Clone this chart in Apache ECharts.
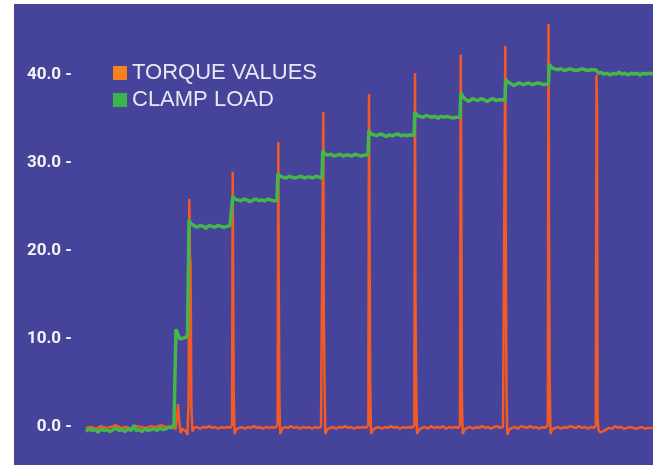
<!DOCTYPE html>
<html>
<head>
<meta charset="utf-8">
<script src="https://cdn.jsdelivr.net/npm/echarts@6/dist/echarts.min.js"></script>
<style>
html,body{margin:0;padding:0;background:#ffffff;}
#chart{position:absolute;left:14px;top:4px;width:639px;height:461px;}
</style>
</head>
<body>
<div id="chart"></div>
<script>
// Time in samples, values in load units
const seriesNames = ['TORQUE VALUES', 'CLAMP LOAD'];
const yTicks = [0, 10, 20, 30, 40];

const torqueTime = [0,5,10,15,20,25,30,35,40,45,50,55,60,65,70,75,80,85,88,89.5,91,92,93,94.5,96,98,100,101.5,102.6,103.3,103.8,104.6,105.4,106.5,108,111,114,117,120,123,126,129,132,135,138,141,144,146,
146.7,147.2,147.8,148.6,150,153,156,159,162,165,168,171,174,177,180,183,186,189,191.6,
192.3,192.8,193.4,194.2,196,199,202,205,208,211,214,217,220,223,226,229,232,235,236.6,
237.3,237.8,238.5,239.3,241,244,247,250,253,256,259,262,265,268,271,274,277,280,282.3,
283,283.5,284.2,285,287,290,293,296,299,302,305,308,311,314,317,320,323,326,328.3,
329,329.5,330.2,331,333,336,339,342,345,348,351,354,357,360,363,366,369,372,374,
374.7,375.2,375.9,376.7,378.5,381,384,387,390,393,396,399,402,405,408,411,414,417,418.6,
419.3,419.8,420.5,421.3,423,426,429,432,435,438,441,444,447,450,453,456,459,461.8,
462.5,463,463.7,464.5,466,469,472,475,478,481,484,487,490,493,496,499,502,505,508,509.8,
510.5,511,511.6,512.5,514,517,520,523,526,529,532,535,538,541,544,547,550,553,556,559,562,565,567];
const torqueValue = [-0.1,0.0,-0.2,0.1,-0.1,0.0,0.2,-0.1,0.0,-0.2,0.1,0.0,-0.1,0.1,0.0,0.2,0.0,0.1,0.2,-0.3,1.0,2.6,1.0,-0.7,-0.2,-0.4,-0.5,-0.9,3.0,25.9,20.0,18.4,2.0,-0.5,-0.1,0.0,-0.2,0.0,-0.1,0.1,-0.1,0.0,-0.2,0.0,-0.1,0.0,-0.1,0.2,
29.0,15.0,3.0,-0.8,-0.3,-0.1,0.0,-0.2,0.0,-0.1,0.1,-0.1,0.0,-0.2,0.0,-0.1,0.0,-0.1,0.2,
32.4,15.3,3.0,-0.8,-0.2,0.0,-0.1,0.1,-0.1,0.0,-0.2,0.0,-0.1,0.0,-0.2,0.0,-0.1,0.0,0.2,
35.8,13.4,5.5,-0.8,-0.3,-0.1,0.0,-0.2,0.0,-0.1,0.1,-0.1,0.0,-0.2,0.0,-0.1,0.0,-0.1,0.2,
37.8,23.3,5.0,-0.8,-0.3,-0.1,0.0,-0.2,0.0,-0.1,0.1,-0.1,0.0,-0.2,0.0,-0.1,0.0,-0.1,0.2,
40.2,14.0,4.0,-0.8,-0.3,-0.1,0.0,-0.2,0.1,-0.1,0.0,-0.1,0.1,-0.2,0.0,-0.1,0.0,-0.1,0.2,
42.3,29.0,3.2,-0.8,-0.3,-0.1,0.0,-0.2,0.0,-0.1,0.1,-0.1,0.0,-0.2,0.0,0.1,-0.1,0.0,0.2,
43.3,20.0,4.0,-0.9,-0.3,-0.1,0.0,-0.2,0.1,0.0,-0.1,0.1,-0.1,0.0,-0.2,0.0,-0.1,0.2,
45.8,22.0,5.0,-0.8,-0.3,-0.1,0.0,-0.2,0.0,-0.1,0.1,0.0,-0.1,0.1,-0.1,0.0,-0.2,0.0,-0.1,0.2,
40.0,35.8,1.0,-0.3,-0.6,-0.5,-0.3,-0.1,-0.2,0.1,-0.1,0.0,-0.2,-0.1,0.0,-0.1,-0.2,-0.1,0.0,-0.2,-0.1,-0.1,-0.1];

const clampTime = [0,3,6,9,12,15,18,21,24,27,30,33,36,39,42,45,48,50,53,56,59,62,65,68,71,74,77,80,83,86,88,
89,90,92,94,97,100,101.5,102.5,103,105,108,111,114,117,120,123,126,129,132,135,138,141,144,146,
146.8,149,152,155,158,161,164,167,170,173,176,179,182,185,188,191,
191.8,194,197,200,203,206,209,212,215,218,221,224,227,230,233,236,
236.8,239,242,245,248,251,254,257,260,263,266,269,272,275,278,282,
282.8,285,288,291,294,297,300,303,306,309,312,315,318,321,324,328,
328.8,331,334,337,340,343,346,349,352,355,358,361,364,367,370,374,
374.8,377,380,383,386,389,392,395,398,401,404,407,410,413,416,419,
419.8,422,425,428,431,434,437,440,443,446,449,452,455,458,462.5,
463.2,466,469,472,475,478,481,484,487,490,493,496,499,502,505,508,511,
512,515,518,521,524,527,530,533,536,539,542,545,548,551,554,557,560,563,567];
const clampValue = [-0.5,-0.2,-0.4,-0.3,-0.6,-0.2,-0.4,-0.3,-0.5,-0.3,-0.1,-0.4,-0.3,-0.5,-0.2,-0.4,0.2,-0.4,-0.3,-0.5,-0.2,-0.4,-0.3,-0.2,-0.4,-0.1,-0.3,-0.2,0.0,-0.1,0.2,
6.0,11.1,10.5,10.0,10.1,10.2,10.5,19.0,23.5,23.1,22.9,22.7,22.9,22.8,22.6,22.9,22.8,22.7,22.9,22.8,22.7,22.8,22.9,22.8,
26.2,25.9,25.8,25.7,25.9,25.8,25.6,25.8,25.9,25.7,25.8,25.7,25.9,25.8,25.7,25.8,
28.8,28.5,28.4,28.3,28.5,28.4,28.3,28.4,28.5,28.3,28.4,28.4,28.3,28.5,28.4,28.3,
31.4,31.0,30.9,31.0,30.8,30.9,31.0,30.8,30.9,30.9,30.8,31.0,30.9,30.8,30.9,30.9,
33.7,33.3,33.2,33.1,33.3,33.2,33.0,33.2,33.1,33.2,33.3,33.1,33.2,33.1,33.2,33.1,
35.8,35.4,35.3,35.2,35.4,35.3,35.2,35.3,35.1,35.3,35.2,35.3,35.2,35.1,35.2,35.2,
38.0,37.5,37.2,37.0,37.3,37.2,37.1,37.3,37.2,37.0,37.2,37.3,37.1,37.2,37.2,37.1,
39.5,39.2,39.0,38.8,39.0,39.1,38.9,39.0,39.1,38.9,39.0,39.1,39.0,38.9,39.0,
41.2,40.8,40.7,40.6,40.7,40.5,40.6,40.7,40.6,40.5,40.6,40.7,40.6,40.5,40.6,40.6,40.5,
40.2,40.3,40.1,40.2,40.0,40.2,40.1,40.3,40.1,40.2,40.0,40.2,40.1,40.2,40.0,40.2,40.1,40.2,40.1];

function pairs(t, v) { return t.map((x, i) => [x, v[i]]); }

const chart = echarts.init(document.getElementById('chart'), null, {renderer: 'canvas'});
chart.setOption({
  animation: false,
  backgroundColor: '#45439A',
  grid: {left: 72, right: 0, top: -17, bottom: -50, containLabel: false, outerBoundsMode: 'none'},
  legend: {
    data: seriesNames,
    orient: 'vertical',
    left: 99,
    top: 58,
    padding: 0,
    itemWidth: 14,
    itemHeight: 14,
    itemGap: 5,
    icon: 'rect',
    textStyle: {color: '#E8E8F2', fontSize: 22, fontFamily: 'Liberation Sans, Arial, sans-serif'}
  },
  xAxis: {type: 'value', min: 0, max: 567, show: false},
  yAxis: {
    type: 'value', min: -10, max: 50, interval: 10,
    axisLine: {show: false}, axisTick: {show: false}, splitLine: {show: false},
    axisLabel: {
      margin: 14,
      color: '#F4F4F8',
      fontSize: 17,
      fontWeight: 'bold',
      fontFamily: 'Roboto, sans-serif',
      formatter: function (v) { return yTicks.indexOf(v) >= 0 ? v.toFixed(1) + ' -' : ''; }
    }
  },
  series: [
    {
      name: seriesNames[0], type: 'line', showSymbol: false, symbol: 'none',
      data: pairs(torqueTime, torqueValue),
      itemStyle: {color: '#F58220'},
      lineStyle: {color: '#F25A26', width: 2.5}
    },
    {
      name: seriesNames[1], type: 'line', showSymbol: false, symbol: 'none',
      data: pairs(clampTime, clampValue),
      itemStyle: {color: '#39B54A'},
      lineStyle: {color: '#45B649', width: 3.5}
    }
  ]
});
</script>
</body>
</html>
